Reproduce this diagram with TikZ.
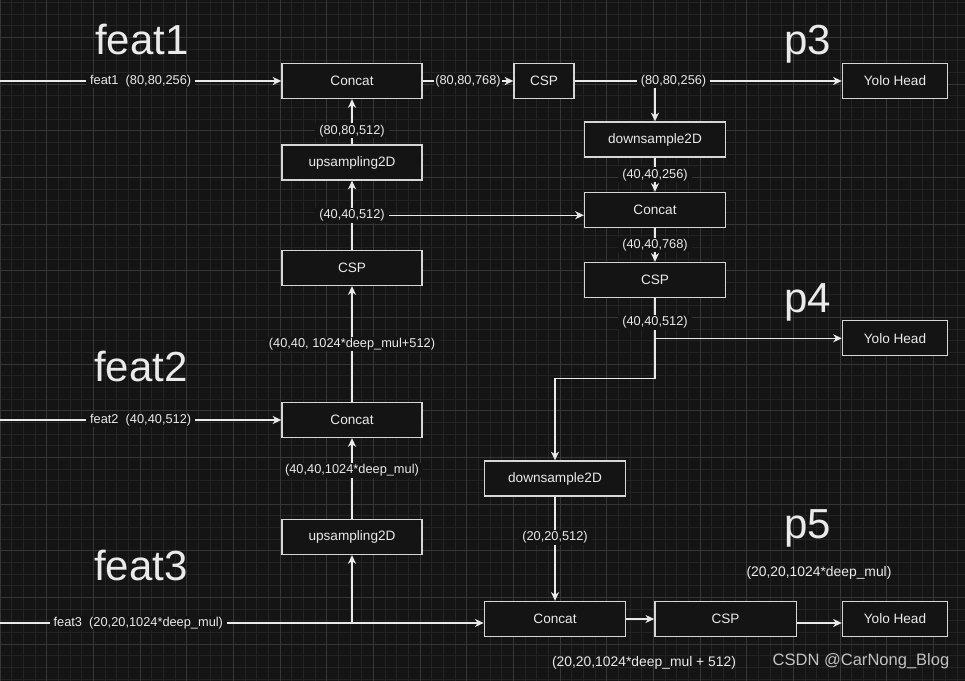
\documentclass[tikz,border=0pt]{standalone}
\usepackage{fontspec}
\setmainfont{Liberation Sans}
\usetikzlibrary{arrows.meta,calc}
\definecolor{bgcol}{HTML}{141414}
\definecolor{gridlo}{HTML}{232323}
\definecolor{gridhi}{HTML}{363636}
\definecolor{fgcol}{HTML}{EAEAEA}
\definecolor{boxcol}{HTML}{D6D6D6}
\definecolor{markcol}{HTML}{C2C2C2}

\begin{document}
\begin{tikzpicture}[x=0.75pt,y=-0.75pt,
  blk/.style={draw=boxcol, fill=bgcol, line width=1pt, text=fgcol, inner sep=0pt,
    minimum height=26.25pt, minimum width=105pt, font=\fontsize{10.2}{12}\selectfont},
  lbl/.style={fill=bgcol, text=fgcol, inner xsep=3pt, inner ysep=1pt, font=\fontsize{9.6}{11}\selectfont},
  note/.style={text=fgcol, inner sep=1pt, font=\fontsize{10.4}{12}\selectfont},
  big/.style={text=fgcol, anchor=base, inner sep=0pt, font=\fontsize{31.5}{36}\selectfont},
  arr/.style={draw=fgcol, line width=1pt, -{Stealth[length=6.5pt,width=6pt,inset=2pt]}}]

% background and grid
\useasboundingbox (0,0) rectangle (965,681);
\fill[bgcol] (0,0) rectangle (965,681);
\foreach \i in {0,...,82} \draw[gridlo, line width=0.75pt] ({0.3+11.667*\i},0) -- ({0.3+11.667*\i},681);
\foreach \j in {0,...,58} \draw[gridlo, line width=0.75pt] (0,{2.57+11.667*\j}) -- (965,{2.57+11.667*\j});
\foreach \i in {0,...,20} \draw[gridhi, line width=0.75pt] ({0.3+46.667*\i},0) -- ({0.3+46.667*\i},681);
\foreach \j in {0,...,13} \draw[gridhi, line width=0.75pt] (0,{37.57+46.667*\j}) -- (965,{37.57+46.667*\j});

% columns
\pgfmathsetmacro{\xl}{352.0}
\pgfmathsetmacro{\xr}{655.0}
\pgfmathsetmacro{\xb}{555.0}
\pgfmathsetmacro{\xh}{895.0}

% left column elements
  \node[blk] (concat1) at (\xl,81) {Concat};
  \node[blk] (up1) at (\xl,162.5) {upsampling2D};
  \node[blk] (csp1) at (\xl,268) {CSP};
  \node[blk] (concat2) at (\xl,420) {Concat};
  \node[blk] (up2) at (\xl,537) {upsampling2D};

% right column elements
  \node[blk, minimum width=45pt] (csp2) at (544,81) {CSP};
  \node[blk, minimum width=105.75pt] (down1) at (\xr,139.5) {downsample2D};
  \node[blk, minimum width=105.75pt] (concat3) at (\xr,210) {Concat};
  \node[blk, minimum width=105.75pt] (csp3) at (\xr,280) {CSP};
  \node[blk, minimum width=106pt] (down2) at (\xb,478.5) {downsample2D};
  \node[blk, minimum width=106pt] (concat4) at (\xb,619) {Concat};
  \node[blk, minimum width=106pt] (csp4) at (725.5,619) {CSP};

% heads
  \node[blk, minimum width=78.75pt] (head1) at (\xh,81) {Yolo Head};
  \node[blk, minimum width=78.75pt] (head2) at (\xh,338.3) {Yolo Head};
  \node[blk, minimum width=78.75pt] (head3) at (\xh,619) {Yolo Head};

% titles
  \node[big] (tfeat1) at (142,54.3) {feat1};
  \node[big] (tfeat2) at (141,381.7) {feat2};
  \node[big] (tfeat3) at (141,580.7) {feat3};
  \node[big] (tp3) at (807.5,54.3) {p3};
  \node[big] (tp4) at (807.5,312.3) {p4};
  \node[big] (tp5) at (807.5,538) {p5};

% inputs
\coordinate (in1) at (0,81);
\coordinate (in2) at (0,420);
\coordinate (in3) at (0,623);
\coordinate (j3) at (\xl,623);

  \draw[arr] (in1) -- node[lbl]{feat1\ \ (80,80,256)} (concat1);
  \draw[arr] (in2) -- node[lbl]{feat2\ \ (40,40,512)} (concat2);
  \draw[arr] (j3) -- (up2);
  \draw[arr] (in3) -- node[lbl, pos=0.286]{feat3\ \ (20,20,1024*deep\_mul)} (in3 -| concat4.west);

% upward path
  \draw[arr] (up2) -- node[lbl, pos=0.6]{(40,40,1024*deep\_mul)} (concat2);
  \draw[arr] (concat2) -- node[lbl]{(40,40, 1024*deep\_mul+512)} (csp1);
  \draw[arr] (csp1) -- node[lbl] (lbl1) {(40,40,512)} (up1);
  \draw[arr] (lbl1.east) -- (lbl1.east -| concat3.west);
  \draw[arr] (up1) -- node[lbl, pos=0.3]{(80,80,512)} (concat1);

% top row and downward path
\coordinate (j2) at (\xr,81);
\coordinate (j4) at (\xr,338.3);
\coordinate (k1) at (\xr,378.5);

  \draw[arr] (concat1) -- node[lbl, inner xsep=1pt]{(80,80,768)} (csp2);
  \draw[arr] (j2) -- (down1);
  \draw[arr] (csp2) -- node[lbl, pos=0.37]{(80,80,256)} (head1);
  \draw[arr] (down1) -- node[lbl]{(40,40,256)} (concat3);
  \draw[arr] (concat3) -- node[lbl]{(40,40,768)} (csp3);
  \draw[arr] (j4) -- (head2);
  \draw[arr] (csp3) -- node[lbl, pos=0.3]{(40,40,512)} (k1) -| (down2);
  \draw[arr] (down2) -- node[lbl, pos=0.39]{(20,20,512)} (concat4);
  \draw[arr] (concat4) -- (csp4);
  \draw[arr] ($(csp4.east)+(0,4)$) -- ($(head3.west)+(0,4)$);

% notes
  \node[note] (dimp5) at (819,573) {(20,20,1024*deep\_mul)};
  \node[note] (dimcat) at (644,663) {(20,20,1024*deep\_mul + 512)};
  \node[text=markcol, inner sep=0pt, font=\fontsize{12.4}{14}\selectfont] (mark) at (861,661) {CSDN @CarNong\_Blog};

\end{tikzpicture}
\end{document}
